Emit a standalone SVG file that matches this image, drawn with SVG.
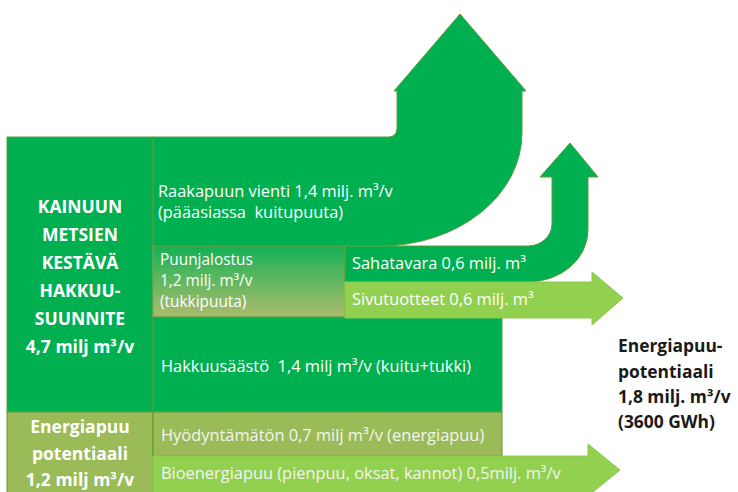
<svg xmlns="http://www.w3.org/2000/svg" width="738" height="492" viewBox="0 0 738 492">
<defs>
<linearGradient id="gradPuu" x1="0" y1="0" x2="0" y2="1">
<stop offset="0" stop-color="#12b055"/>
<stop offset="0.45" stop-color="#5cb760"/>
<stop offset="1" stop-color="#aabb6e"/>
</linearGradient>
<style>
.dk{fill:#00b050;stroke:#5e9a3a;stroke-width:1}
.ol{fill:#9bbb59;stroke:#5e9a3a;stroke-width:1}
.lt{fill:#92d050;stroke:#8cc84c;stroke-width:1}
.t{font-family:"Open Sans","Liberation Sans",sans-serif;font-size:16.4px;fill:#ffffff}
.s{font-family:"Open Sans","Liberation Sans",sans-serif;font-size:15.4px;fill:#ffffff}
.t2{font-family:"Open Sans","Liberation Sans",sans-serif;font-size:16.4px;fill:#f3f5ee}
.b{font-family:"Open Sans","Liberation Sans",sans-serif;font-size:17.5px;font-weight:bold;fill:#ffffff;text-anchor:middle}
.r{font-family:"Open Sans","Liberation Sans",sans-serif;font-size:17.4px;font-weight:bold;fill:#1a1a1a}
</style>
</defs>
<rect width="738" height="492" fill="#ffffff"/>

<g id="kainuun-hakkuusuunnite">
<rect class="dk" x="7" y="137" width="146" height="275"/>
<text class="b" x="80" y="213">KAINUUN</text>
<text class="b" x="80" y="241">METSIEN</text>
<text class="b" x="80" y="269">KESTÄVÄ</text>
<text class="b" x="80" y="297">HAKKUU-</text>
<text class="b" x="80" y="325">SUUNNITE</text>
<text class="b" x="80" y="353">4,7 milj m³/v</text>
</g>

<g id="energiapuu-potentiaali-vasen">
<rect class="ol" x="7" y="412" width="146" height="84"/>
<text class="b" x="80" y="433">Energiapuu</text>
<text class="b" x="80" y="460">potentiaali</text>
<text class="b" x="80" y="486">1,2 milj m³/v</text>
</g>

<g id="puunjalostus">
<rect x="153" y="246" width="192" height="71" fill="url(#gradPuu)" stroke="#7fa84a" stroke-width="1"/>
<text class="s" x="160" y="265">Puunjalostus</text>
<text class="s" x="160" y="286">1,2 milj. m³/v</text>
<text class="s" x="160" y="307">(tukkipuuta)</text>
</g>

<g id="hakkuusaasto">
<rect class="dk" x="153" y="317" width="349" height="95"/>
<text class="t" x="161" y="372" xml:space="preserve">Hakkuusäästö  1,4 milj m³/v (kuitu+tukki)</text>
</g>

<g id="hyodyntamaton">
<rect class="ol" x="153" y="412" width="349" height="44"/>
<text class="t2" x="161" y="441">Hyödyntämätön 0,7 milj m³/v (energiapuu)</text>
</g>

<g id="connectors">
<g id="raakapuun-vienti">
<path class="dk" d="M153,137 H389 A8,8 0 0 0 397,129 V91 H394 L460,14 L526,91 H522 V133 A142,113 0 0 1 380,246 H153 Z"/>
<text class="t" x="158" y="197">Raakapuun vienti 1,4 milj. m³/v</text>
<text class="t" x="158" y="218" xml:space="preserve">(pääasiassa  kuitupuuta)</text>
</g>
<g id="sahatavara">
<path class="dk" d="M345,246 H528 A24,22 0 0 0 552,224 V177 H540 L570,143 L598,177 H588 V230 A60,52 0 0 1 528,282 H345 Z"/>
<text class="t" x="352" y="269">Sahatavara 0,6 milj. m³</text>
</g>
<g id="sivutuotteet">
<path class="lt" d="M345,282 H592 V272 L623,298 L592,325 V318 H345 Z"/>
<text class="t" x="352" y="305">Sivutuotteet 0,6 milj. m³</text>
</g>
<g id="bioenergiapuu">
<path class="lt" d="M153,456 H588 V444 L620,470 L588,496 V494 H153 Z"/>
<text class="t2" x="161" y="479">Bioenergiapuu (pienpuu, oksat, kannot) 0,5milj. m³/v</text>
</g>
</g>

<g id="energiapuu-potentiaali-oikea">
<text class="r" x="618" y="352">Energiapuu-</text>
<text class="r" x="618" y="378">potentiaali</text>
<text class="r" x="618" y="403">1,8 milj. m³/v</text>
<text class="r" x="618" y="428">(3600 GWh)</text>
</g>
</svg>
